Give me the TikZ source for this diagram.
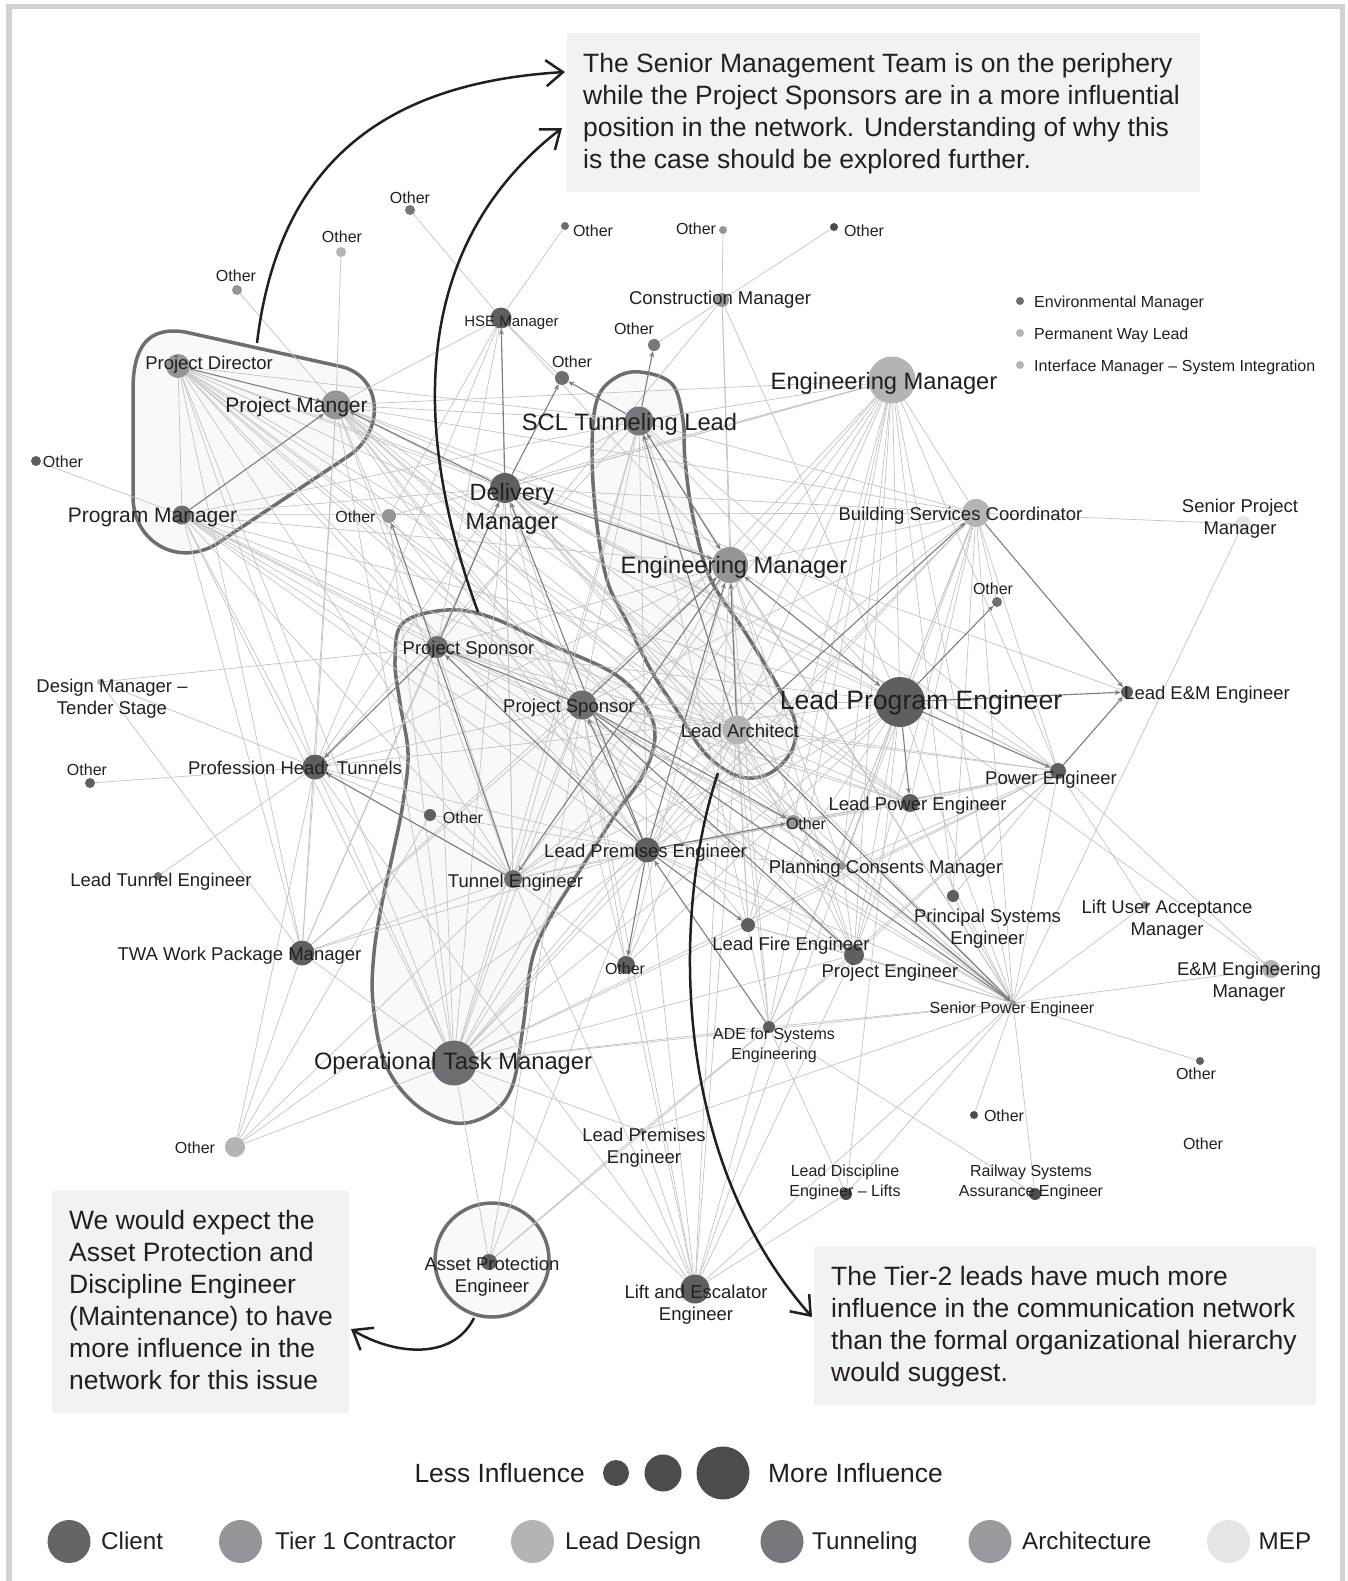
\documentclass[tikz,border=0pt]{standalone}
\usepackage{fontspec}
\setmainfont{Liberation Sans}
\usetikzlibrary{arrows.meta}
\pgfdeclarelayer{back}
\pgfdeclarelayer{links}
\pgfsetlayers{back,links,main}

\definecolor{ink}{HTML}{231F20}
\definecolor{cDark}{HTML}{4B4C4E}
\definecolor{cClient}{HTML}{5E5F61}
\definecolor{cMid}{HTML}{6D6E71}
\definecolor{cTun}{HTML}{77787B}
\definecolor{cTier}{HTML}{939598}
\definecolor{cArch}{HTML}{999A9D}
\definecolor{cLead}{HTML}{B3B4B6}
\definecolor{cMEP}{HTML}{E4E5E6}
\definecolor{cLegClient}{HTML}{646567}
\definecolor{edgeLight}{HTML}{C3C4C6}
\definecolor{edgeDark}{HTML}{7D7E81}
\definecolor{hullLine}{HTML}{6D6E71}
\definecolor{hullFill}{HTML}{F9F9F9}
\definecolor{noteFill}{HTML}{F1F2F3}
\definecolor{frameGrey}{HTML}{D1D2D4}

\tikzset{
  dot/.style={circle, inner sep=0pt, draw=none},
  link/.style={draw=edgeLight, line width=0.7pt},
  dlink/.style={draw=edgeDark, line width=1.1pt, -{Stealth[length=6pt,width=5pt]}},
  dlinkb/.style={draw=edgeDark, line width=1.1pt, {Stealth[length=6pt,width=5pt]}-{Stealth[length=6pt,width=5pt]}},
  hull/.style={draw=hullLine, line width=3.5pt, fill=hullFill},
  note/.style={fill=noteFill, draw=none, inner sep=0pt, anchor=north west},
  notetext/.style={font=\fontsize{26.5}{32}\selectfont, text=ink, align=left, inner sep=0pt, anchor=north west},
  annot/.style={draw=ink, line width=2.5pt, -{Straight Barb[length=17pt,width=26pt]}},
  lbS/.style={font=\fontsize{16}{20}\selectfont, text=ink, inner sep=0pt, anchor=mid, yshift=-4pt},
  lbSm/.style={font=\fontsize{16}{20}\selectfont, text=ink, inner sep=0pt, align=center, anchor=center, yshift=-2.5pt},
  lbM/.style={font=\fontsize{18.5}{22}\selectfont, text=ink, inner sep=0pt, anchor=mid, yshift=-4.5pt},
  lbMm/.style={font=\fontsize{18.5}{22}\selectfont, text=ink, inner sep=0pt, align=center, anchor=center, yshift=-2pt},
  lbL/.style={font=\fontsize{21}{26}\selectfont, text=ink, inner sep=0pt, anchor=mid, yshift=-5pt},
  lbX/.style={font=\fontsize{23.7}{29}\selectfont, text=ink, inner sep=0pt, anchor=mid, yshift=-6.5pt},
  lbXm/.style={font=\fontsize{23.5}{29}\selectfont, text=ink, inner sep=0pt, align=center, anchor=center, yshift=-4pt},
  lbXX/.style={font=\fontsize{26.6}{32}\selectfont, text=ink, inner sep=0pt, anchor=mid, yshift=-7pt},
  legtext/.style={font=\fontsize{26.4}{32}\selectfont, text=ink, inner sep=0pt, yshift=-7pt},
  cattext/.style={font=\fontsize{24.2}{30}\selectfont, text=ink, inner sep=0pt, anchor=mid west, yshift=-5.5pt},
}

\begin{document}
\begin{tikzpicture}[x=1pt, y=-1pt]
\useasboundingbox (0,0) rectangle (1347,1581);

% ---------- background, frame, group hulls ----------
\begin{pgfonlayer}{back}
  \fill[white] (0,0) rectangle (1347,1581);
  \draw[frameGrey, line width=5.5pt] (9,6.5) rectangle (1342.5,1600);
  % senior management group
  \path[hull] (133,390) -- (133,497) .. controls (133,540) and (175,567) .. (215,545)
     -- (350,455) .. controls (385,430) and (382,378) .. (343,367)
     -- (185,332) .. controls (147,326) and (133,348) .. (133,390) -- cycle;
  % project sponsor group
  \path[hull] plot[smooth cycle, tension=0.6] coordinates {
     (403,623) (447,610) (490,617) (547,643) (613,673) (645,705) (655,737)
     (643,775) (615,815) (580,870) (550,918) (532,960) (523,1027) (512,1087)
     (490,1114) (455,1123) (415,1104) (385,1063) (373,1003) (374,953)
     (382,903) (393,853) (403,803) (408,753) (400,703) (395,660)};
  % tier-2 leads group
  \path[hull] plot[smooth cycle, tension=0.6] coordinates {
     (640,372) (672,384) (683,420) (685,460) (693,517) (710,578) (745,632)
     (780,690) (795,722) (792,750) (772,772) (747,778) (722,768) (700,747)
     (678,712) (652,672) (627,622) (607,580) (596,517) (592,450) (597,400) (615,378)};
  % asset protection ring
  \node[circle, draw=hullLine, line width=3.5pt, fill=hullFill, minimum size=114pt, inner sep=0pt] (apring) at (492,1260) {};
  % callout panels
  \node[note, minimum width=633pt, minimum height=159pt] (note1) at (567,33) {};
  \node[note, minimum width=297pt, minimum height=222pt] (note2) at (52,1191) {};
  \node[note, minimum width=502pt, minimum height=158pt] (note3) at (814,1247) {};
\end{pgfonlayer}

% ---------- network nodes ----------
\foreach \n/\x/\y/\d/\c in {
  pd/178/366/24/cTier, pm/336/405/29/cTier, pg/182/515/19/cMid, o1/389/516/14/cTier,
  dm/505/488/30/cClient, hse/501/318/21/cClient, ot1/410/210/10/cTun, ot2/565/226/8/cMid,
  ot3/723/230/8/cTier, ot4/834/227/8/cDark, cm/722/300/14/cTier, oc/654/345/12/cTun,
  os/562/378/14/cMid, scl/639/421/29/cTun, emt/892/380/47/cLead, emm/730/565/36/cTier,
  bsc/976/513/28/cLead, ob/997/602/10/cMid, spm/1243/524/16/cMEP, lpe/900/702/50/cClient,
  lem/1127/692/12/cClient, pe/1058/771/16/cClient, lpwe/910/803/18/cClient, oo/793/822/14/cTier,
  lpre/647/850/25/cClient, pcm/842/866/8/cTier, pse/953/896/12/cClient, lfe/748/925/14/cClient,
  pje/854/955/20/cClient, olp/626/965/18/cClient, spe/1013/1003/6/cTier, ade/769/1027/12/cClient,
  lua/1145/905/8/cTier, emem/1271/969/18/cLead, ps1/437/647/22/cMid, ps2/582/705/29/cMid,
  la/737/730/29/cLead, oth/430/815/12/cClient, te/513/879/18/cMid, phd/315/767/25/cClient,
  dmt/100/682/6/cLead, oph/90/783/10/cClient, lte/158/876/8/cMid, twa/302/953/25/cClient,
  otm/454/1063/45/cMid, ola/235/1147/20/cLead, ape/489/1262/16/cClient, lpr2/642/1131/6/cTier,
  lde/846/1194/12/cDark, oo2/974/1115/8/cDark, rsa/1035/1194/12/cDark, lee/695/1289/29/cClient,
  oa/237/290/10/cTier, ob2/341/252/10/cLead, ol/36/461/10/cClient, orr/1200/1061/8/cClient,
  env/1020/301/8/cMid, pwl/1020/333/8/cLead, ims/1020/365/8/cLead}
  \node[dot, fill=\c, minimum size=\d*1pt] (\n) at (\x,\y) {};

% ---------- communication links ----------
\begin{pgfonlayer}{links}
\foreach \a/\b in {
  pd/pg, pd/dm, pd/emm, pd/lpre, pd/ps2, pd/te, pd/la, pd/oo, pd/phd, pd/otm, pd/twa, pd/scl,
  pd/lpe, pd/pje, pd/ps1, pd/lpwe, pd/spe,
  pm/ob2, pm/oa, pm/scl, pm/emt, pm/bsc, pm/lem, pm/emm, pm/lpre, pm/ps2, pm/ps1, pm/te, pm/la,
  pm/oo, pm/lpwe, pm/phd, pm/otm, pm/spe, pm/pe, pm/lfe, pm/pje, pm/twa, pm/hse,
  pg/ol, pg/phd, pg/twa, pg/otm, pg/te, pg/lpre, pg/ps2, pg/la, pg/emm, pg/oo, pg/dm, pg/scl,
  pg/pje, pg/lpe, pg/ps1, pg/spe, pg/bsc,
  o1/hse, o1/emt, o1/otm, o1/lpre,
  dm/scl, dm/emt, dm/bsc, dm/la, dm/lpe, dm/oo, dm/lpwe, dm/phd, dm/te, dm/otm, dm/pe, dm/spe,
  dm/pcm, dm/ps2, dm/twa, dm/olp,
  hse/ot1, hse/ot2, hse/os, hse/ps1, hse/te, hse/emm, hse/phd,
  cm/ot3, cm/ot4, cm/oc, cm/emm, cm/lpe, cm/ps1, cm/la,
  scl/lpre, scl/ps2, scl/lpe, scl/spe, scl/otm, scl/te, scl/pe, scl/phd, scl/bsc, scl/emt,
  scl/pje, scl/ade,
  emt/emm, emt/lpre, emt/la, emt/ps2, emt/lpe, emt/pje, emt/spe, emt/lfe, emt/pe, emt/ade,
  emt/otm, emt/te, emt/dm, emt/pcm, emt/bsc, emt/oo, emt/pse,
  emm/otm, emm/olp, emm/ade, emm/pje, emm/spe, emm/pe, emm/bsc, emm/phd, emm/twa, emm/pcm, emm/lfe,
  bsc/lpe, bsc/spe, bsc/pe, bsc/lpre, bsc/ps2, bsc/pje, bsc/ade, bsc/te, bsc/otm, bsc/pse,
  bsc/pcm, bsc/lpwe, bsc/ob, bsc/spm,
  lpe/lpre, lpe/ps2, lpe/ade, lpe/pje, lpe/lfe, lpe/spe, lpe/lee, lpe/olp, lpe/otm, lpe/te,
  lpe/phd, lpe/pcm, lpe/lde, lpe/ps1, lpe/emem,
  la/lpre, la/ps2, la/otm, la/ade, la/pe, la/lpwe, la/oo, la/te, la/lee, la/pje, la/lfe, la/olp,
  lpre/te, lpre/otm, lpre/phd, lpre/twa, lpre/lee, lpre/spe, lpre/pje, lpre/pe, lpre/lpwe,
  lpre/pcm, lpre/oth,
  ps1/te, ps1/otm, ps1/twa, ps1/la, ps1/emm, ps1/oo, ps1/spe, ps1/lpwe, ps1/dmt,
  ps2/pe, ps2/lpwe, ps2/te, ps2/otm, ps2/olp, ps2/twa, ps2/phd, ps2/lee, ps2/pcm, ps2/ape,
  spe/pe, spe/pse, spe/lua, spe/emem, spe/orr, spe/oo2, spe/rsa, spe/ade, spe/lde, spe/pje,
  spe/lfe, spe/pcm, spe/lpwe, spe/otm, spe/lee, spe/lpr2, spe/spm,
  pe/emem, pe/pje, pe/pcm, pe/ade, pe/lfe, pe/oo, pe/lpwe, pe/otm, pe/te, pe/pse, pe/lua,
  phd/oph, phd/dmt, phd/lte, phd/twa, phd/te, phd/otm, phd/ola, phd/oth, phd/lee,
  twa/ola, twa/otm, twa/te, twa/dmt,
  otm/ola, otm/te, otm/ade, otm/lee, otm/ape, otm/lpr2, otm/pje, otm/lfe,
  ade/lee, ade/lde, ade/rsa, ade/pje, ade/lpr2, ade/ape,
  lee/lpr2, lee/lde, lee/pje, lee/olp, lee/te, lee/emm,
  ape/lpr2, ape/lpre, te/oth, te/olp, ola/te, ola/oth, ola/lpre,
  lpwe/pje, lfe/pje, pcm/pje, oo/pcm}
  \draw[link] (\a) -- (\b);
\foreach \a/\b in {
  pd/pm, pg/pm, dm/pm, dm/hse, dm/os, scl/os, scl/oc, la/scl, la/emm, dm/emm, la/bsc,
  lpe/ob, bsc/lem, lpe/lem, pe/lem, lpe/pe, lpe/lpwe, lpre/oo, lpre/olp, lpre/lfe, ade/lpre,
  emm/te, ps2/ps1, lpre/ps1, lpre/ps2, ps1/phd, te/phd, ps1/dm, lpre/dm, te/o1, ps2/pje,
  spe/oo, ps2/oo, lpre/emm, ps2/emm, ps2/spe, la/spe}
  \draw[dlink] (\a) -- (\b);
\draw[dlinkb] (scl) -- (emm);
\draw[dlinkb] (emm) -- (lpe);
\end{pgfonlayer}

% ---------- annotation arrows ----------
\coordinate (a1s) at (257,343);  \coordinate (a1e) at (565,72);
\coordinate (a2s) at (478,612);  \coordinate (a2e) at (562,128);
\coordinate (a3s) at (718,773);  \coordinate (a3e) at (812,1317);
\coordinate (a4s) at (474,1318); \coordinate (a4e) at (351,1329);
\draw[annot] (a1s) .. controls (280,150) and (400,82) .. (a1e);
\draw[annot] (a2s) .. controls (415,440) and (405,250) .. (a2e);
\draw[annot] (a3s) .. controls (675,900) and (665,1150) .. (a3e);
\draw[annot] (a4s) .. controls (452,1362) and (392,1354) .. (a4e);

% ---------- node labels ----------
\node[lbM] (t-pd) at (209,362) {Project Director};
\node[lbL] (t-pm) at (296.5,405) {Project Manger};
\node[lbL] (t-pg) at (152.5,515) {Program Manager};
\node[lbS] (t-o1) at (355.5,516) {Other};
\node[lbXm] (t-dm) at (512,505) {Delivery\\Manager};
\node[font=\fontsize{15}{18}\selectfont, text=ink, inner sep=0pt, anchor=mid, yshift=-4pt] (t-hse) at (511.5,320) {HSE Manager};
\node[lbS] (t-ot1) at (410,197) {Other};
\node[lbS] (t-ot2) at (593,230) {Other};
\node[lbS] (t-ot3) at (696,228) {Other};
\node[lbS] (t-ot4) at (864,230) {Other};
\node[lbM] (t-cm) at (720,297) {Construction Manager};
\node[lbS] (t-oc) at (634,328) {Other};
\node[lbS] (t-os) at (572,361) {Other};
\node[lbX] (t-scl) at (629.5,421) {SCL Tunneling Lead};
\node[lbX] (t-emt) at (884,380) {Engineering Manager};
\node[lbX] (t-emm) at (734,564) {Engineering Manager};
\node[lbM] (t-bsc) at (960.5,513) {Building Services Coordinator};
\node[lbS] (t-ob) at (993,588) {Other};
\node[lbMm] (t-spm) at (1240,517) {Senior Project\\Manager};
\node[lbM] (t-lem) at (1207,692) {Lead E\&M Engineer};
\node[lbXX] (t-lpe) at (921,700) {Lead Program Engineer};
\node[lbM] (t-pe) at (1051,777) {Power Engineer};
\node[lbM] (t-lpwe) at (917.5,803) {Lead Power Engineer};
\node[lbS] (t-oo) at (806,823) {Other};
\node[lbM] (t-lpre) at (645.5,850) {Lead Premises Engineer};
\node[lbM] (t-pcm) at (885.5,866) {Planning Consents Manager};
\node[lbMm] (t-pse) at (987.5,927) {Principal Systems\\Engineer};
\node[lbM] (t-lfe) at (791,943) {Lead Fire Engineer};
\node[lbM] (t-pje) at (890,970) {Project Engineer};
\node[lbS] (t-olp) at (625,968) {Other};
\node[lbS] (t-spe) at (1012,1007) {Senior Power Engineer};
\node[lbSm] (t-ade) at (774,1043) {ADE for Systems\\Engineering};
\node[lbMm] (t-lua) at (1167,917.5) {Lift User Acceptance\\Manager};
\node[lbMm] (t-emem) at (1249,980) {E\&M Engineering\\Manager};
\node[lbM] (t-ps1) at (468.5,647) {Project Sponsor};
\node[lbM] (t-ps2) at (569,705) {Project Sponsor};
\node[lbM] (t-la) at (740,730) {Lead Architect};
\node[lbS] (t-oth) at (463,817) {Other};
\node[lbM] (t-te) at (515.5,880) {Tunnel Engineer};
\node[lbM] (t-phd) at (295,767) {Profession Head: Tunnels};
\node[lbMm] (t-dmt) at (112,696.5) {Design Manager –\\Tender Stage};
\node[lbS] (t-oph) at (87,769) {Other};
\node[lbM] (t-lte) at (161,879) {Lead Tunnel Engineer};
\node[lbM] (t-twa) at (239.5,953) {TWA Work Package Manager};
\node[lbX] (t-otm) at (453,1060) {Operational Task Manager};
\node[lbS] (t-ola) at (195,1147) {Other};
\node[lbMm] (t-ape) at (492,1274.5) {Asset Protection\\Engineer};
\node[lbMm] (t-lpr2) at (644,1145.5) {Lead Premises\\Engineer};
\node[lbSm] (t-lde) at (845,1180) {Lead Discipline\\Engineer – Lifts};
\node[lbS] (t-oo2) at (1004,1115) {Other};
\node[lbSm] (t-rsa) at (1031,1180) {Railway Systems\\Assurance Engineer};
\node[lbMm] (t-lee) at (696,1302.5) {Lift and Escalator\\Engineer};
\node[lbS] (t-oa) at (236,275) {Other};
\node[lbS] (t-ob2) at (342,236) {Other};
\node[lbS] (t-ol) at (63,461) {Other};
\node[lbS] (t-orr) at (1196,1073) {Other};
\node[lbS] (t-olone) at (1203,1143) {Other};
\node[lbS, anchor=mid west] (t-env) at (1034,301) {Environmental Manager};
\node[lbS, anchor=mid west] (t-pwl) at (1034,333) {Permanent Way Lead};
\node[lbS, anchor=mid west] (t-ims) at (1034,365) {Interface Manager – System Integration};

% ---------- callout texts ----------
\node[notetext] (n1text) at (583,53.5) {The Senior Management Team is on the periphery\\while the Project Sponsors are in a more influential\\position in the network. Understanding of why this\\is the case should be explored further.};
\node[notetext] (n2text) at (69,1210.5) {We would expect the\\Asset Protection and\\Discipline Engineer\\(Maintenance) to have\\more influence in the\\network for this issue};
\node[notetext] (n3text) at (831,1266.5) {The Tier-2 leads have much more\\influence in the communication network\\than the formal organizational hierarchy\\would suggest.};

% ---------- legend ----------
\node[legtext, anchor=mid east] (less) at (585,1473) {Less Influence};
\node[dot, fill=cDark, minimum size=26pt] (sz1) at (616,1473) {};
\node[dot, fill=cDark, minimum size=37pt] (sz2) at (663,1473) {};
\node[dot, fill=cDark, minimum size=53pt] (sz3) at (723,1473) {};
\node[legtext, anchor=mid west] (more) at (768,1473) {More Influence};

\node[dot, fill=cLegClient, minimum size=43pt] (k1) at (69,1541.5) {};
\node[cattext] (k1t) at (101,1541.5) {Client};
\node[dot, fill=cTier, minimum size=43pt] (k2) at (240.5,1541.5) {};
\node[cattext] (k2t) at (275,1541.5) {Tier 1 Contractor};
\node[dot, fill=cLead, minimum size=43pt] (k3) at (532.5,1541.5) {};
\node[cattext] (k3t) at (565,1541.5) {Lead Design};
\node[dot, fill=cTun, minimum size=43pt] (k4) at (782,1541.5) {};
\node[cattext] (k4t) at (812,1541.5) {Tunneling};
\node[dot, fill=cArch, minimum size=43pt] (k5) at (990,1541.5) {};
\node[cattext] (k5t) at (1022,1541.5) {Architecture};
\node[dot, fill=cMEP, minimum size=43pt] (k6) at (1228.5,1541.5) {};
\node[cattext] (k6t) at (1258.5,1541.5) {MEP};
\end{tikzpicture}
\end{document}
